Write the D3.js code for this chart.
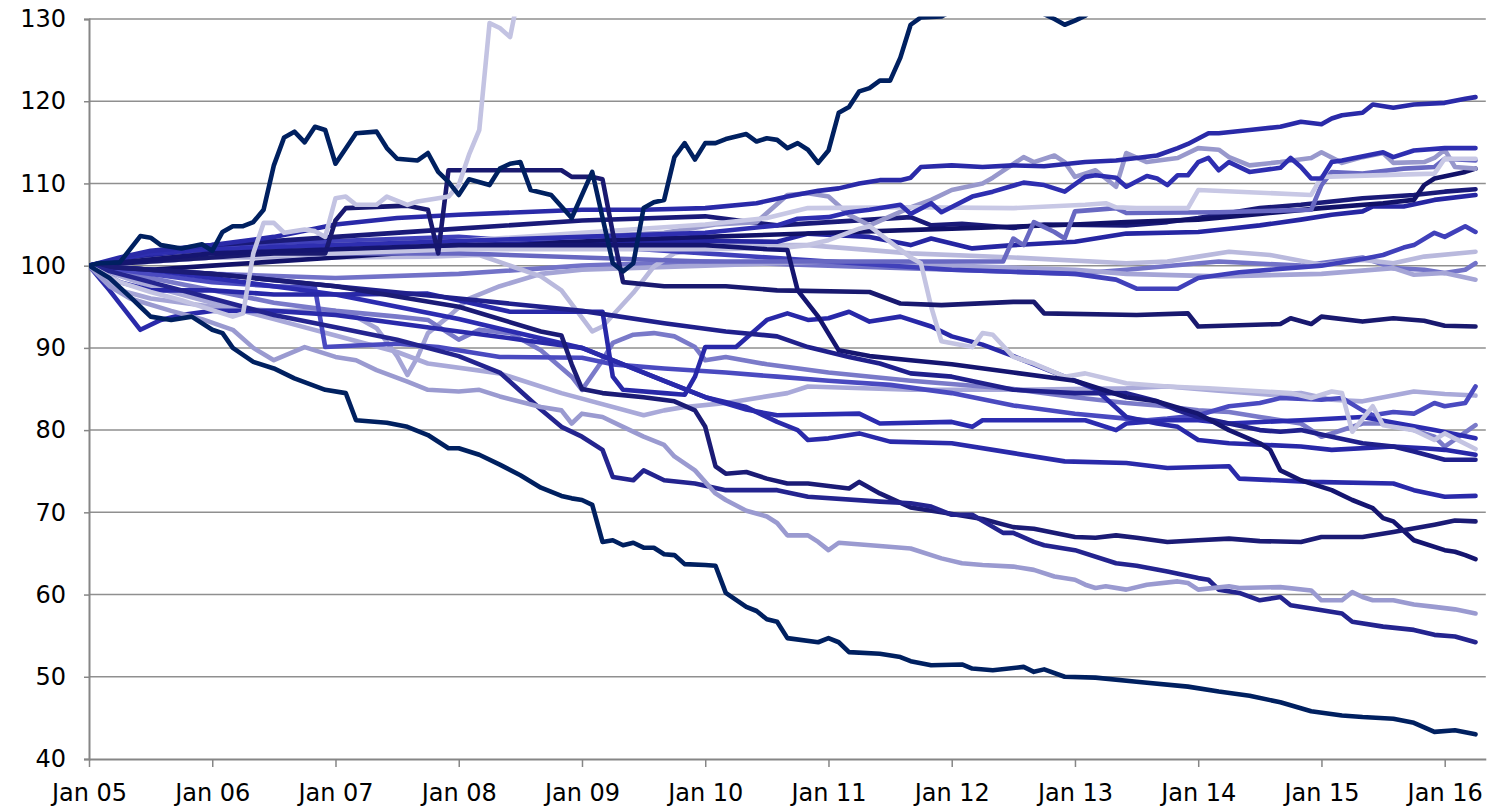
<!DOCTYPE html>
<html><head><meta charset="utf-8">
<script src="https://cdn.jsdelivr.net/npm/d3@7"></script>
<style>html,body{margin:0;padding:0;background:#fff;}svg{display:block;}</style>
</head><body>
<svg id="chart" width="1499" height="809"></svg>
<script>
// ---- DATA: [month index from Jan 2005, index value] ----
const xTickLabels = ["Jan 05","Jan 06","Jan 07","Jan 08","Jan 09","Jan 10","Jan 11","Jan 12","Jan 13","Jan 14","Jan 15","Jan 16"];
const yTicks = [40,50,60,70,80,90,100,110,120,130];

const sNavyDown = [[0,100],[2,98.5],[4,96.2],[5,95],[6,93.8],[8,93.4],[10,93.8],[12,92.2],[13,91.8],[14,90],[16,88.3],[18,87.5],[20,86.3],[23,84.9],[25,84.5],[26,81.2],[29,80.9],[31,80.4],[33,79.4],[35,77.8],[36,77.8],[38,77],[40,75.8],[42,74.5],[44,73],[46,72],[47,71.7],[48,71.5],[49,70.9],[50,66.4],[51,66.6],[52,66],[53,66.3],[54,65.7],[55,65.7],[56,64.9],[57,64.8],[58,63.7],[60,63.6],[61,63.5],[62,60.2],[64,58.5],[65,58],[66,57],[67,56.7],[68,54.7],[71,54.2],[72,54.7],[73,54.2],[74,53],[77,52.8],[79,52.4],[80,51.9],[82,51.4],[85,51.5],[86,51],[88,50.8],[91,51.2],[92,50.6],[93,50.9],[95,50],[98,49.9],[102,49.4],[107,48.8],[110,48.2],[113,47.7],[116,46.9],[119,45.8],[122,45.3],[124,45.1],[127,44.9],[129,44.4],[131,43.3],[133,43.5],[135,43]];
const sNavyUp = [[0,100],[1,100.3],[3,100.4],[5,103.6],[6,103.4],[7,102.5],[9,102.1],[11,102.6],[12,101.8],[13,104.1],[14,104.8],[15,104.8],[16,105.3],[17,106.8],[18,112.2],[19,115.6],[20,116.3],[21,115],[22,116.9],[23,116.5],[24,112.4],[26,116.1],[28,116.3],[29,114.3],[30,113],[32,112.8],[33,113.7],[34,111.4],[35,110.2],[36,108.6],[37,110.5],[39,109.8],[40,111.8],[41,112.4],[42,112.6],[43,109.2],[45,108.6],[46,107.2],[47,105.8],[49,111.4],[51,100.3],[52,99.3],[53,100.3],[54,107],[55,107.7],[56,108],[57,113.2],[58,114.9],[59,112.9],[60,114.9],[61,114.9],[62,115.4],[64,116],[65,115.1],[66,115.5],[67,115.3],[68,114.3],[69,114.9],[70,114.1],[71,112.5],[72,114],[73,118.6],[74,119.3],[75,121.2],[76,121.6],[77,122.5],[78,122.5],[79,125.3],[80,129.3],[81,130.2],[83,130.3],[84,131],[86,133],[90,133.5],[92,131.5],[93,130.6],[94,130],[95,129.3],[96,129.8],[97,130.4],[98,131.5],[100,134],[110,138],[120,141],[135,145]];
const sLavRocket = [[0,100],[3,98],[6,96.8],[9,95.8],[12,94.6],[14,93.8],[15,94.2],[16,101.5],[17,105.2],[18,105.2],[19,104],[21,104.4],[22,104.2],[23,103.5],[24,108.2],[25,108.4],[26,107.4],[28,107.4],[29,108.4],[31,107.4],[32,107.8],[34,108.2],[35,108.4],[36,109.8],[37,113.5],[38,116.5],[39,129.5],[40,128.9],[41,127.8],[42,134],[44,140]];
const sBlue120 = [[0,100],[3,101],[6,101.8],[12,102.5],[18,103.5],[24,105],[30,105.8],[36,106.2],[42,106.5],[48,106.8],[54,106.8],[60,107],[65,107.6],[68,108.4],[71,109.1],[73,109.4],[75,110],[77,110.4],[79,110.4],[80,110.7],[81,112],[84,112.2],[87,112],[90,112.2],[93,112.1],[97,112.6],[100,112.8],[102,113.1],[104,113.4],[106,114.3],[107,114.8],[109,116.1],[110,116.1],[113,116.5],[116,116.9],[118,117.5],[120,117.2],[121,117.9],[122,118.3],[124,118.6],[125,119.6],[127,119.2],[129,119.6],[132,119.8],[134,120.3],[135,120.5]];
const sBlue114 = [[0,100],[6,101.5],[12,102],[24,102.5],[36,103],[48,103.5],[60,104],[67,104.9],[69,105.7],[72,105.9],[74,106.5],[76,106.8],[79,107.4],[80,106.3],[82,107.6],[83,106.5],[86,108.4],[88,109],[91,110.1],[93,109.8],[95,109],[97,110.8],[98,111],[100,110.7],[101,109.6],[103,110.9],[104,110.6],[105,109.8],[106,111],[107,111],[108,112.6],[109,113.1],[110,111.6],[111,112.6],[113,111.4],[116,111.9],[117,113.1],[118,112],[119,110.6],[120,110.6],[121,112.6],[122,112.8],[126,113.8],[127,113.2],[129,114],[132,114.3],[135,114.3]];
const sLav113 = [[0,100],[12,101],[24,102],[36,103],[48,104],[60,105],[66,105.8],[70,107],[80,107.1],[90,107],[97,107.4],[99,107.6],[100,107.1],[102,107],[107,107],[108,109.2],[119,108.6],[120,110.8],[131,111.2],[132,113],[135,113]];
const sGray112 = [[0,100],[12,101.5],[24,102.5],[36,103],[48,103.5],[56,104],[61,105],[65,105.3],[68,108.6],[70,108.8],[72,108.4],[74,106.2],[76,104.9],[80,107.1],[82,108],[84,109.2],[87,110],[88,110.7],[91,113.2],[92,112.6],[94,113.4],[95,112.6],[96,110.8],[98,111.6],[100,109.6],[101,113.7],[103,112.6],[106,113.1],[108,114.3],[110,114.1],[111,113.2],[113,112.2],[116,112.6],[119,113.1],[120,113.8],[122,112.5],[124,113.2],[126,113.7],[127,112.5],[130,112.6],[131,113.1],[132,114.1],[133,112],[135,111.8]];
const sPurple113 = [[0,100],[12,101],[24,101.5],[36,101.5],[48,101],[60,100.5],[72,100.5],[84,100.5],[89,100.5],[90,103.3],[91,102.5],[92,105.3],[94,104.1],[95,103.3],[96,106.6],[100,107],[101,106.4],[110,106.5],[119,106.8],[120,109.8],[121,111.4],[124,111.2],[128,111.8],[131,112],[132,113],[135,112.8]];
const sNavy112 = [[0,100],[6,99.5],[12,100],[24,101],[36,102],[48,103],[60,103.5],[72,104],[84,104.5],[96,105],[101,105.3],[108,105.6],[114,106.3],[120,107],[126,107.6],[129,108],[130,109.8],[131,110.6],[134,111.4],[135,111.8]];
const sNavy109 = [[0,100],[6,101.5],[12,102.5],[24,103.5],[36,104.5],[48,105.5],[60,106],[67,104.9],[80,105.9],[82,104.9],[85,105.1],[90,104.6],[93,105],[101,104.9],[105,105.3],[108,105.8],[111,106.4],[114,107],[118,107.4],[121,107.8],[124,108.2],[129,108.6],[132,109],[135,109.3]];
const sBlue108 = [[0,100],[6,101],[12,101.5],[24,102],[36,102.5],[48,103],[60,103],[67,102.9],[70,103.9],[76,103.5],[80,102.5],[82,103.3],[86,102.1],[90,102.5],[96,102.9],[101,103.9],[108,104.1],[111,104.5],[114,104.9],[118,105.6],[121,106.2],[124,106.6],[125,107.2],[128,107.2],[131,108],[135,108.6]];
const sBlue104 = [[0,100],[6,101.5],[12,102.5],[24,103],[36,103.5],[48,102.5],[60,101.5],[72,100.5],[84,99.5],[96,99],[100,98.3],[102,97.2],[106,97.2],[108,98.5],[112,99.2],[120,100],[124,100.8],[126,101.3],[128,102.2],[129,102.5],[131,104],[132,103.5],[134,104.8],[135,104.1]];
const sLav102 = [[0,100],[6,100.5],[12,101],[24,101],[33,101.1],[38,101.3],[44,98.7],[46,97],[49,92],[50,92.6],[53,96.7],[55,99.9],[57,101.5],[62,102.5],[70,102.5],[80,101.5],[90,101],[101,100.3],[105,100.5],[108,101.1],[111,101.7],[115,101.3],[120,100.1],[124,100.7],[127,100.3],[130,101.1],[135,101.7]];
const sMid100 = [[0,100],[6,99.5],[12,99],[24,98.5],[36,99],[48,100],[60,100.5],[72,100],[84,99.5],[96,99],[101,99.5],[110,100.5],[118,100],[124,101],[127,99.7],[130,99.5],[132,99.1],[134,99.5],[135,100.3]];
const sLav98 = [[0,100],[3,97],[6,96],[12,95],[18,94.5],[24,94.5],[26,93.8],[28,92.4],[30,89],[31,86.7],[32,88.9],[33,91.8],[35,93.8],[37,96],[40,97.5],[44,99],[48,99.5],[60,100],[72,100.5],[84,100],[96,99.5],[101,99],[110,98.7],[120,99],[127,99.7],[129,98.9],[132,99.1],[135,98.3]];
const sNavy93 = [[0,100],[6,100.5],[12,101],[18,101.5],[23,101.5],[24,105.5],[25,107],[31,107.3],[33,106.8],[34,101.5],[35,111.6],[36,111.6],[46,111.6],[47,110.8],[49,110.8],[50,110.5],[51,104],[52,98],[56,97.5],[62,97.5],[67,97],[76,96.8],[79,95.4],[83,95.2],[90,95.6],[92,95.6],[93,94.2],[102,94],[107,94.2],[108,92.6],[116,92.9],[117,93.6],[119,92.9],[120,93.8],[124,93.2],[127,93.6],[130,93.3],[132,92.7],[135,92.6]];
const sNavyDrop = [[0,100],[12,101.5],[24,102],[36,102.5],[48,102.5],[60,102.5],[66,102],[68,101.9],[69,97],[71,93.8],[73,89.7],[76,89],[80,88.5],[84,88],[90,87],[96,86],[101,84],[104,83.5],[108,82],[111,80],[114,78.4],[115,77.6],[116,75.1],[118,73.9],[121,72.7],[123,71.5],[125,70.5],[126,69.3],[127,68.9],[129,66.6],[132,65.4],[133,65.2],[134,64.8],[135,64.3]];
const sLav58 = [[0,100],[2,97.5],[4,96],[8,94.5],[11,93.5],[14,92.2],[16,90],[18,88.5],[21,90.1],[22,89.7],[24,88.9],[26,88.5],[28,87.3],[31,85.9],[33,84.9],[36,84.7],[38,84.9],[40,84.1],[44,82.8],[46,82.4],[47,80.8],[48,82],[50,81.6],[52,80.4],[54,79.2],[56,78.2],[57,76.8],[59,75.1],[61,72.3],[62,71.5],[64,70.2],[66,69.5],[67,68.7],[68,67.2],[70,67.2],[71,66.4],[72,65.4],[73,66.3],[77,65.9],[80,65.6],[83,64.4],[85,63.8],[87,63.6],[90,63.4],[92,63],[94,62.2],[96,61.8],[97,61.2],[98,60.8],[99,61],[101,60.6],[103,61.2],[106,61.6],[107,61.4],[108,60.6],[111,61],[112,60.8],[116,60.9],[119,60.5],[120,59.3],[122,59.3],[123,60.3],[124,59.7],[125,59.3],[127,59.3],[129,58.8],[131,58.5],[133,58.2],[135,57.7]];
const sBlue54 = [[0,100],[6,98],[12,96],[18,94],[24,92.5],[30,91],[36,89],[40,87],[44,82.5],[46,80.4],[48,79.2],[50,77.6],[51,74.3],[53,73.9],[54,75.1],[56,73.9],[59,73.5],[62,72.7],[67,72.7],[70,71.9],[77,71.3],[80,71.1],[82,70.7],[84,69.7],[86,69.7],[89,67.5],[90,67.5],[92,66.4],[93,66],[96,65.4],[100,63.8],[102,63.5],[105,62.8],[108,62],[109,61.8],[110,60.6],[112,60.2],[114,59.3],[116,59.7],[117,58.7],[119,58.3],[122,57.7],[123,56.7],[126,56.1],[129,55.7],[131,55.1],[133,54.9],[135,54.2]];
const sNavy69 = [[0,100],[6,99.5],[12,99],[24,97.5],[36,95],[44,92],[46,91.5],[47,88],[48,85],[50,84.5],[54,84],[57,83.5],[59,82.4],[60,80.4],[61,75.6],[62,74.7],[64,74.9],[66,74.1],[68,73.5],[70,73.5],[74,72.9],[75,73.7],[77,72.3],[80,70.6],[83,70],[87,69.2],[90,68.2],[92,68],[96,67],[98,66.9],[100,67.2],[102,66.9],[105,66.4],[108,66.6],[111,66.8],[114,66.5],[118,66.4],[120,67],[124,67],[127,67.6],[131,68.5],[133,69],[135,68.9]];
const sBlue72 = [[0,100],[2,97],[5,92.2],[7,93.4],[9,94],[12,94.5],[18,94.5],[24,94],[30,93],[36,92],[42,91],[48,90],[52,88],[56,86],[60,84],[64,82.8],[67,81],[69,80],[70,78.8],[72,79],[75,79.6],[78,78.6],[84,78.4],[90,77.2],[95,76.2],[101,76],[105,75.4],[111,75.6],[112,74.1],[119,73.7],[127,73.5],[129,72.7],[132,71.9],[135,72]];
const sBlue85 = [[0,100],[6,99],[12,98],[18,97.5],[22,97.3],[23,90.1],[26,90.3],[30,90.5],[34,90.1],[40,88.9],[48,88.8],[51,88],[56,87.5],[62,87],[67,86.5],[72,86],[78,85.5],[84,84.5],[90,83],[96,82],[101,81.4],[103,81.2],[105,81.4],[108,81.8],[111,82.9],[114,83.3],[116,83.9],[120,83.7],[122,83.9],[124,82.4],[125,81.8],[127,82.2],[129,82],[131,83.3],[132,82.9],[134,83.3],[135,85.3]];
const sLav80 = [[0,100],[6,98.5],[12,97],[18,95.5],[24,94.5],[30,93.8],[33,93.4],[36,91],[38,92.2],[41,91.8],[44,89.7],[47,86.5],[48,84.9],[50,88.5],[51,90.6],[53,91.6],[55,91.8],[57,91.4],[59,90.1],[60,88.5],[62,88.9],[66,88],[72,87],[80,86],[90,85],[96,84],[101,83.3],[104,83],[108,82.4],[111,82.2],[114,81.6],[118,80.8],[120,79.2],[124,80.8],[126,80.8],[129,80],[131,79.2],[132,78],[135,80.6]];
const sBlue79 = [[0,100],[6,99.5],[12,98.5],[24,96.5],[36,93.5],[48,90],[56,86],[60,84],[64,82.5],[67,81.8],[75,82],[77,80.8],[84,81],[86,80.4],[87,81.2],[97,81.2],[100,80],[101,80.8],[105,81.2],[108,81.2],[111,80.8],[118,81.2],[124,81.6],[131,80],[135,79]];
const sNavy76 = [[0,100],[12,99],[24,97.5],[36,96],[48,94.5],[56,93],[62,92],[67,91.4],[70,90.1],[74,88.9],[77,88.1],[80,86.9],[84,86.5],[87,85.7],[90,84.9],[96,84.5],[101,84.5],[104,83.5],[106,82.4],[108,81.6],[111,80.8],[114,80],[116,79.8],[118,80],[121,79.2],[124,78.4],[127,78],[129,77.4],[132,76.4],[135,76.4]];
const sBlue77 = [[0,100],[3,98],[6,97],[12,97],[18,96.5],[24,96.5],[33,96.6],[41,94.4],[50,94.4],[51,86.5],[52,84.9],[56,84.5],[58,84.3],[59,86.5],[60,90.1],[63,90.1],[66,93.4],[68,94.2],[70,93.4],[72,93.6],[74,94.4],[76,93.2],[79,93.8],[82,92.6],[84,91.4],[87,90.4],[90,89],[94,87],[98,85],[101,81.6],[104,80.8],[106,80.4],[108,78.8],[111,78.4],[118,78],[121,77.6],[127,78],[130,77.8],[132,77.6],[135,77]];
const sLav78 = [[0,100],[12,101],[24,101.5],[36,102],[48,102],[60,102],[67,102.1],[70,102.5],[72,103.1],[75,104.5],[76,104.8],[78,102.9],[80,101],[81,100.3],[82,95],[83,90.8],[86,90.1],[87,91.8],[88,91.6],[90,88.9],[92,88.1],[95,86.5],[97,86.9],[101,85.7],[105,85.3],[109,85.1],[117,84.5],[119,83.9],[121,84.7],[122,84.5],[123,79.8],[125,82.9],[126,80.6],[129,80],[131,78.8],[132,79.6],[135,77.7]];
const sLav84 = [[0,100],[6,97.5],[12,95.5],[18,93.5],[24,91.5],[30,89.5],[33,88.1],[40,86.9],[46,84.5],[54,81.8],[56,82.4],[58,82.8],[62,83.3],[68,84.5],[70,85.3],[80,84.9],[90,84.9],[101,85.1],[105,85.3],[110,84.8],[115,84.3],[118,84.5],[121,83.7],[124,83.5],[129,84.7],[132,84.4],[135,84.2]];

// ---- series (drawing order) ----
const seriesData = [sMid100, sLav98, sLav102, sBlue104, sBlue108, sNavy109, sNavy112, sPurple113, sGray112, sLav113, sBlue114, sBlue120,
  sLav84, sLav80, sBlue85, sBlue79, sBlue77, sNavy76, sLav78, sBlue72, sNavy93, sNavyDrop, sNavy69, sBlue54, sLav58, sLavRocket, sNavyDown, sNavyUp];
const seriesColors = ["#7272c8","#a5a5d6","#b9b9dd","#4040ba","#2626a2","#1a1a78","#121268","#6868c2","#9898cc","#c8c8e5","#2e2eb0","#2a2aa8",
  "#a9a9d9","#7a7ac9","#4a4ac0","#2c2cb0","#2828a8","#20208c","#c4c4e2","#2a2aaa","#19196f","#151570","#1b1b75","#24248f","#9a9ad0","#c3c3e2","#002060","#002060"];

// ---- layout ----
const svg = d3.select("#chart");
const plotL = 89, monthW = (1444.7 - 89) / 132, plotR = plotL + 136 * monthW;
const plotT = 19, plotB = 759;
const x = d3.scaleLinear().domain([0, 136]).range([plotL, plotR]);
const y = d3.scaleLinear().domain([40, 130]).range([plotB, plotT]);
const font = "'DejaVu Sans', Verdana, sans-serif";

// gridlines
svg.append("g").selectAll("line").data(yTicks.filter(v => v > 40)).join("line")
  .attr("x1", plotL).attr("x2", plotR).attr("y1", d => y(d)).attr("y2", d => y(d))
  .attr("stroke", "#8f8f8f").attr("stroke-width", 1.5);

// y axis
const yAxis = svg.append("g").attr("transform", `translate(${plotL},0)`)
  .call(d3.axisLeft(y).tickValues(yTicks).tickSize(5).tickPadding(18).tickFormat(d3.format("d")));
yAxis.select(".domain").attr("stroke", "#868686").attr("stroke-width", 2);
yAxis.selectAll(".tick line").attr("stroke", "#868686").attr("stroke-width", 1.5);
yAxis.selectAll("text").attr("font-family", font).attr("font-size", 24).attr("fill", "#000");

// x axis
const xTickVals = xTickLabels.map((d, i) => i * 12);
const xAxis = svg.append("g").attr("transform", `translate(0,${plotB})`)
  .call(d3.axisBottom(x).tickValues(xTickVals).tickSize(8).tickSizeOuter(0).tickPadding(17).tickFormat((d, i) => xTickLabels[i]));
xAxis.select(".domain").attr("stroke", "#868686").attr("stroke-width", 2);
xAxis.selectAll(".tick line").attr("stroke", "#868686").attr("stroke-width", 1.5);
xAxis.selectAll("text").attr("font-family", font).attr("font-size", 24).attr("fill", "#000");

// clip
svg.append("clipPath").attr("id", "plotclip").append("rect")
  .attr("x", plotL).attr("y", plotT - 2.5).attr("width", plotR - plotL + 10).attr("height", plotB - plotT + 2.5);

const line = d3.line().x(d => x(d[0])).y(d => y(d[1]));
svg.append("g").attr("clip-path", "url(#plotclip)")
  .selectAll("path").data(seriesData).join("path")
  .attr("d", line).attr("fill", "none")
  .attr("stroke", (d, i) => seriesColors[i])
  .attr("stroke-width", 4.6).attr("stroke-linejoin", "round").attr("stroke-linecap", "round");
</script>
</body></html>
